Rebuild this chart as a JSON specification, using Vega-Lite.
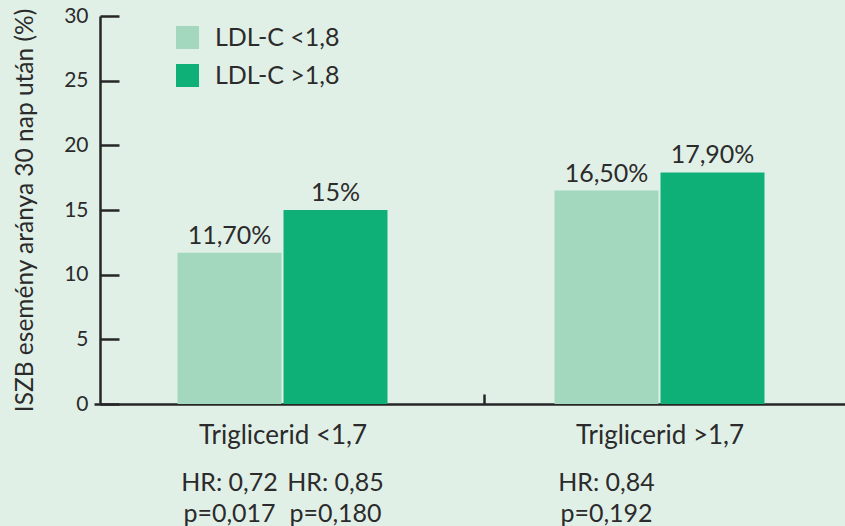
{
  "$schema": "https://vega.github.io/schema/vega-lite/v6.json",
  "width": 745,
  "height": 388,
  "autosize": {"type": "none"},
  "padding": {"left": 100, "top": 16, "right": 0, "bottom": 122},
  "background": "#e1f0e7",
  "config": {
    "view": {"stroke": null},
    "font": "Lato",
    "text": {"color": "#2b2b2b", "font": "Lato"}
  },
  "data": {
    "values": [
      {"group": "Triglicerid <1,7", "ldl": "LDL-C <1,8", "value": 11.7, "label": "11,70%", "hr": "HR: 0,72", "p": "p=0,017"},
      {"group": "Triglicerid <1,7", "ldl": "LDL-C >1,8", "value": 15, "label": "15%", "hr": "HR: 0,85", "p": "p=0,180"},
      {"group": "Triglicerid >1,7", "ldl": "LDL-C <1,8", "value": 16.5, "label": "16,50%", "hr": "HR: 0,84", "p": "p=0,192"},
      {"group": "Triglicerid >1,7", "ldl": "LDL-C >1,8", "value": 17.9, "label": "17,90%", "hr": "", "p": ""}
    ]
  },
  "encoding": {
    "x": {
      "field": "group",
      "type": "nominal",
      "sort": null,
      "scale": {"range": [-6, 748], "paddingInner": 0, "paddingOuter": 0},
      "axis": {
        "title": null,
        "labelAngle": 0,
        "labelFontSize": 26,
        "labelColor": "#2b2b2b",
        "labelBaseline": "alphabetic",
        "labelPadding": 49,
        "domainColor": "#262626",
        "domainWidth": 2.5,
        "tickColor": "#262626",
        "tickSize": -10,
        "tickWidth": 2.5,
        "tickOffset": -175.5,
        "labelOffset": 175.5,
        "tickOpacity": {"condition": {"test": "datum.value === 'Triglicerid >1,7'", "value": 1}, "value": 0}
      }
    },
    "xOffset": {
      "field": "ldl",
      "sort": null,
      "scale": {"range": [83.5, 293.5], "paddingInner": 0.0189, "paddingOuter": 0}
    },
    "y": {
      "field": "value",
      "type": "quantitative",
      "scale": {"domain": [0, 30], "nice": false},
      "axis": {
        "title": "ISZB esemény aránya 30 nap után (%)",
        "titleFontSize": 24.5,
        "titleFontWeight": "normal",
        "titleColor": "#2b2b2b",
        "titlePadding": 26,
        "values": [0, 5, 10, 15, 20, 25, 30],
        "grid": false,
        "tickSize": -19,
        "tickWidth": 2.5,
        "tickColor": "#262626",
        "domainColor": "#262626",
        "domainWidth": 2.5,
        "labelFontSize": 21,
        "labelColor": "#2b2b2b",
        "labelPadding": 31
      }
    }
  },
  "layer": [
    {
      "mark": {"type": "bar"},
      "encoding": {
        "color": {
          "field": "ldl",
          "type": "nominal",
          "scale": {"domain": ["LDL-C <1,8", "LDL-C >1,8"], "range": ["#a3d8bf", "#0faf78"]},
          "legend": {
            "title": null,
            "orient": "none",
            "legendX": 75,
            "legendY": 9,
            "padding": 0,
            "symbolType": "square",
            "symbolSize": 529,
            "symbolStrokeWidth": 0,
            "symbolOpacity": 1,
            "labelFontSize": 25,
            "labelColor": "#2b2b2b",
            "labelOffset": 15,
            "rowPadding": 12
          }
        }
      }
    },
    {
      "mark": {"type": "text", "baseline": "alphabetic", "dy": -9, "fontSize": 25},
      "encoding": {"text": {"field": "label"}}
    },
    {
      "mark": {"type": "text", "baseline": "alphabetic", "dy": 87, "fontSize": 25},
      "encoding": {"y": {"datum": 0}, "text": {"field": "hr"}}
    },
    {
      "mark": {"type": "text", "baseline": "alphabetic", "dy": 118, "fontSize": 25},
      "encoding": {"y": {"datum": 0}, "text": {"field": "p"}}
    }
  ]
}
